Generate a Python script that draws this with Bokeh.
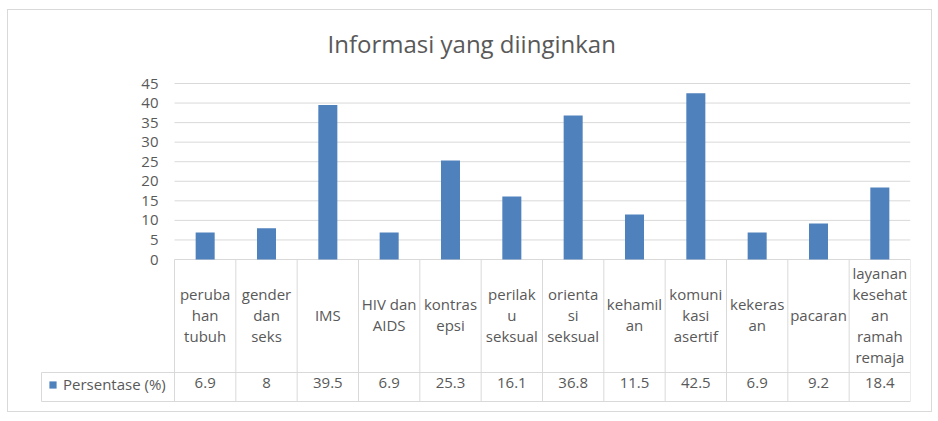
from bokeh.plotting import figure
from bokeh.layouts import column
from bokeh.models import Range1d, FixedTicker, Legend, LegendItem, ColumnDataSource
from bokeh.embed import file_html
from bokeh.resources import INLINE
from bokeh.core.properties import value

# ---------------- data ----------------
title_text = "Informasi yang diinginkan"
series_name = "Persentase (%)"
categories = ["perubahan tubuh", "gender dan seks", "IMS", "HIV dan AIDS", "kontrasepsi",
              "perilaku seksual", "orientasi seksual", "kehamilan", "komunikasi asertif",
              "kekerasan", "pacaran", "layanan kesehatan ramah remaja"]
category_labels = ["peruba\nhan\ntubuh", "gender\ndan\nseks", "IMS", "HIV dan\nAIDS",
                   "kontras\nepsi", "perilak\nu\nseksual", "orienta\nsi\nseksual",
                   "kehamil\nan", "komuni\nkasi\nasertif", "kekeras\nan", "pacaran",
                   "layanan\nkesehat\nan\nramah\nremaja"]
persentase = [6.9, 8, 39.5, 6.9, 25.3, 16.1, 36.8, 11.5, 42.5, 6.9, 9.2, 18.4]
y_ticks = [0, 5, 10, 15, 20, 25, 30, 35, 40, 45]

# ---------------- styling / layout ----------------
TEXT = "#595959"
GRID = "#d9d9d9"
BAR = "#4F81BD"
FONT = "Open Sans"

W, H = 923, 401
FL, FR, FT, FB = 32, 902, 65, 394      # frame edges (canvas px)
COL_LEFT = 166                          # canvas px of first table column
n = len(categories)
COL_W = (FR - COL_LEFT) / n
PX = 176 / 45.0                         # px per value unit
Y0 = 249                                # canvas px of value 0

def ydata(py):
    return (Y0 - py) / PX

def xdata(px):
    return (px - COL_LEFT) / COL_W

x_start = xdata(FL)
legend_left = xdata(33)
row_line = ydata(362)
table_bottom = ydata(391)
header_mid = ydata(304)
value_mid = ydata(372.5)

xs = [i + 0.5 for i in range(n)]

p = figure(width=W, height=H, output_backend="svg", toolbar_location=None,
           x_range=Range1d(x_start, n), y_range=Range1d(ydata(FB), ydata(FT)),
           min_border_left=FL, min_border_right=W - FR,
           min_border_top=FT, min_border_bottom=H - FB,
           background_fill_color="white", border_fill_color="white")
p.outline_line_color = None

# title
p.title.text = title_text
p.title.align = "left"
p.title.offset = 287
p.title.vertical_align = "middle"
p.title.text_font = FONT
p.title.text_font_size = "24px"
p.title.text_font_style = "normal"
p.title.text_color = TEXT
p.title.standoff = 30

# axes
p.xaxis.visible = False
p.xgrid.visible = False
p.ygrid.visible = False
ticker = FixedTicker(ticks=y_ticks)
p.yaxis.ticker = ticker
p.yaxis.fixed_location = 0
p.yaxis.axis_line_color = None
p.yaxis.major_tick_line_color = None
p.yaxis.minor_tick_line_color = None
p.yaxis.major_tick_out = 0
p.yaxis.major_tick_in = 0
p.yaxis.major_label_standoff = 16
p.yaxis.major_label_text_font = FONT
p.yaxis.major_label_text_font_size = "15px"
p.yaxis.major_label_text_color = TEXT

# value gridlines (only over the category columns)
p.segment(x0=[0] * len(y_ticks), x1=[n] * len(y_ticks), y0=y_ticks, y1=y_ticks,
          line_color=GRID, line_width=1, level="underlay")

src = ColumnDataSource(dict(x=xs, cat=categories, lab=category_labels, v=persentase,
                            vtxt=[f"{v:g}" for v in persentase]))

bars = p.vbar(x="x", top="v", bottom=0, width=0.31, source=src,
              fill_color=BAR, line_color=None)

# data table
p.segment(x0=list(range(n + 1)), x1=list(range(n + 1)),
          y0=[0] * (n + 1), y1=[table_bottom] * (n + 1),
          line_color=GRID, line_width=1)
p.segment(x0=[legend_left, legend_left, legend_left], x1=[n, n, legend_left],
          y0=[row_line, table_bottom, row_line], y1=[row_line, table_bottom, table_bottom],
          line_color=GRID, line_width=1)
p.text(x="x", y=header_mid, text="lab", source=src, text_align="center",
       text_baseline="middle", text_font=value(FONT), text_font_size="15px",
       text_color=TEXT, text_line_height=1.05)
p.text(x="x", y=value_mid, text="vtxt", source=src, text_align="center",
       text_baseline="middle", text_font=value(FONT), text_font_size="15px",
       text_color=TEXT)

legend = Legend(items=[LegendItem(label=series_name, renderers=[bars])],
                location=(8, 10), orientation="vertical",
                glyph_width=9, glyph_height=9, label_standoff=6,
                padding=7, spacing=0, margin=0,
                label_text_font=FONT, label_text_font_size="15px", label_text_color=TEXT,
                border_line_color=None, background_fill_alpha=0)
p.add_layout(legend, "center")

layout = column(p, styles={"border": "1px solid #d9d9d9",
                           "margin-left": "7px", "margin-top": "9px"})
open("out.html", "w").write(file_html(layout, INLINE))
